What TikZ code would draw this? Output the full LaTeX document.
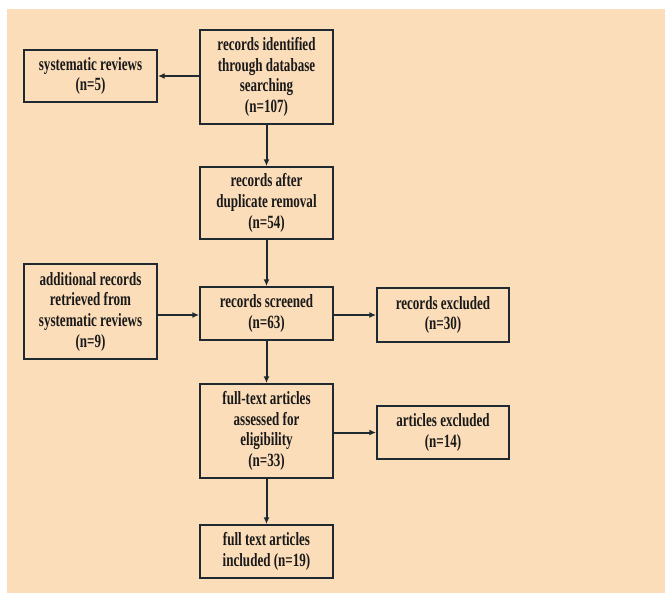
\documentclass[tikz,border=0pt]{standalone}
\usepackage{fontspec}
\setmainfont[FakeStretch=0.7]{Liberation Serif}
\usetikzlibrary{arrows.meta}
\definecolor{peach}{HTML}{FCDDB9}
\definecolor{boxline}{HTML}{1E2A30}
\tikzset{
  stage/.style={draw=boxline,line width=1.5pt,align=center,inner sep=0pt,
    font=\fontsize{14}{15.5}\selectfont\bfseries,text=black!90},
  arr/.style={draw=boxline,line width=1.5pt,-{Latex[length=5pt,width=4.5pt]}}
}
\begin{document}
\begin{tikzpicture}[x=0.75pt,y=0.75pt,yscale=-1,xscale=1]
\useasboundingbox (0,0) rectangle (666,594);
\fill[peach] (7,9) rectangle (665,593);
\draw (266.5,77) node [stage,minimum width=99.75pt,minimum height=70.5pt] (srch) {records identified\\through database\\searching\\(n=107)};
\draw (90.5,76) node [stage,minimum width=99.75pt,minimum height=39pt] (sysrev) {systematic reviews\\(n=5)};
\draw (266.5,203) node [stage,minimum width=99.75pt,minimum height=54pt] (dup) {records after\\duplicate removal\\(n=54)};
\draw (90.5,311.5) node [stage,minimum width=99.75pt,minimum height=71.25pt] (addrec) {additional records\\retrieved from\\systematic reviews\\(n=9)};
\draw (266.5,313.5) node [stage,minimum width=99.75pt,minimum height=39.75pt] (scr) {records screened\\(n=63)};
\draw (443,315) node [stage,minimum width=99pt,minimum height=40.5pt] (recex) {records excluded\\(n=30)};
\draw (266.5,431) node [stage,minimum width=99.75pt,minimum height=70.5pt] (full) {full-text articles\\assessed for\\eligibility\\(n=33)};
\draw (443,432.5) node [stage,minimum width=99pt,minimum height=39.75pt] (artex) {articles excluded\\(n=14)};
\draw (266.5,551.5) node [stage,minimum width=99.75pt,minimum height=39.75pt] (incl) {full text articles\\included (n=19)};
\draw [arr] (srch.west |- sysrev.east) -- (sysrev.east);
\draw [arr] (srch) -- (dup);
\draw [arr] (dup) -- (scr);
\draw [arr] (addrec.east |- recex.west) -- (scr.west |- recex.west);
\draw [arr] (scr.east |- recex.west) -- (recex.west);
\draw [arr] (scr) -- (full);
\draw [arr] (full.east |- artex.west) -- (artex.west);
\draw [arr] (full) -- (incl);
\end{tikzpicture}
\end{document}
